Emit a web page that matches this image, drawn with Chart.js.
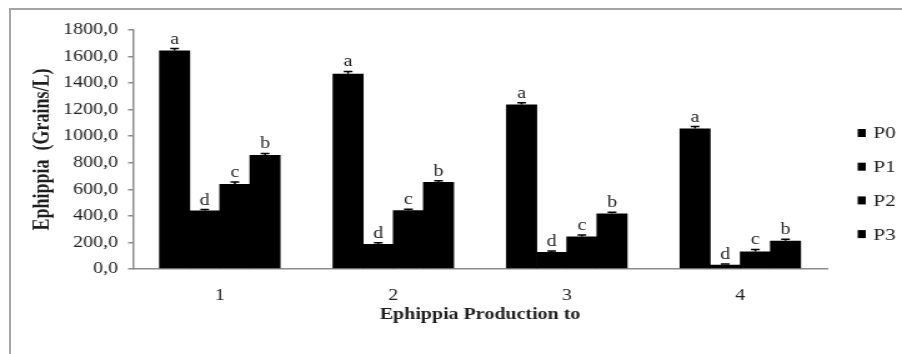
<!DOCTYPE html>
<html>
<head>
<meta charset="utf-8">
<script src="https://cdn.jsdelivr.net/npm/chart.js@4.4.1/dist/chart.umd.min.js"></script>
<style>
  html, body { margin: 0; padding: 0; background: #fff; overflow: hidden; }
  #wrap { position: relative; width: 902px; height: 354px; overflow: hidden; }
  #frame { position: absolute; left: 9px; top: 8px; width: 1000px; height: 1000px;
           border-left: 2px solid #a5a5a5; border-top: 2px solid #a5a5a5; pointer-events: none; }
  /* the source picture is stretched sideways, so the canvas is too */
  #chart { position: absolute; left: 0; top: 0; transform-origin: 0 0; transform: scaleX(1.2493); }
</style>
</head>
<body>
<div id="wrap">
  <canvas id="chart" width="722" height="354"></canvas>
  <div id="frame"></div>
</div>
<script>
// Data
const categories = ['1', '2', '3', '4'];
const seriesNames = ['P0', 'P1', 'P2', 'P3'];
const p0 = [1645, 1470, 1238, 1058];
const p1 = [440, 188, 128, 32];
const p2 = [640, 442, 245, 132];
const p3 = [858, 655, 418, 212];
const p0Err = [15, 18, 15, 15];
const p1Err = [8, 10, 8, 6];
const p2Err = [15, 8, 12, 15];
const p3Err = [12, 10, 10, 12];
const p0Letters = ['a', 'a', 'a', 'a'];
const p1Letters = ['d', 'd', 'd', 'd'];
const p2Letters = ['c', 'c', 'c', 'c'];
const p3Letters = ['b', 'b', 'b', 'b'];
const yMax = 1800;
const yStep = 200;

const serif = '"Liberation Serif", "Times New Roman", serif';
const textColor = '#1f1f1f';
const axisColor = '#8c8c8c';

// Error bars and significance letters above each bar
const errorBars = {
    id: 'errorBars',
    afterDatasetsDraw(chart) {
        const ctx = chart.ctx;
        const yScale = chart.scales.y;
        chart.data.datasets.forEach((ds, i) => {
            chart.getDatasetMeta(i).data.forEach((bar, j) => {
                const top = yScale.getPixelForValue(ds.data[j] + ds.errors[j]);
                ctx.save();
                ctx.strokeStyle = '#000';
                ctx.lineWidth = 1.5;
                ctx.beginPath();
                ctx.moveTo(bar.x, bar.y);
                ctx.lineTo(bar.x, top);
                ctx.moveTo(bar.x - 3.5, top);
                ctx.lineTo(bar.x + 3.5, top);
                ctx.stroke();
                ctx.fillStyle = textColor;
                ctx.font = '16px ' + serif;
                ctx.textAlign = 'center';
                ctx.textBaseline = 'alphabetic';
                ctx.fillText(ds.letters[j], bar.x, top - 5);
                ctx.restore();
            });
        });
    }
};

// Legend at the right, one row per series
const sideLegend = {
    id: 'sideLegend',
    afterDraw(chart) {
        const ctx = chart.ctx;
        ctx.save();
        ctx.font = '17px ' + serif;
        ctx.textBaseline = 'middle';
        chart.data.datasets.forEach((ds, i) => {
            const cy = 133 + i * 33.7;
            ctx.fillStyle = ds.backgroundColor;
            ctx.fillRect(686.5, cy - 4, 6.5, 8);
            ctx.fillStyle = textColor;
            ctx.fillText(ds.label, 699, cy + 1);
        });
        ctx.restore();
    }
};

const values = [p0, p1, p2, p3];
const errs = [p0Err, p1Err, p2Err, p3Err];
const letters = [p0Letters, p1Letters, p2Letters, p3Letters];

const ctx = document.getElementById('chart').getContext('2d');
const chart = new Chart(ctx, {
    type: 'bar',
    data: {
        labels: categories,
        datasets: seriesNames.map((name, i) => ({
            label: name,
            data: values[i],
            errors: errs[i],
            letters: letters[i],
            backgroundColor: '#000',
            borderWidth: 0,
            // slight overlap so no seams show between bars of a group
            categoryPercentage: 0.695,
            barPercentage: 1.03
        }))
    },
    options: {
        responsive: false,
        animation: false,
        layout: {
            autoPadding: false,
            padding: { left: 0, top: 30, right: 60, bottom: 0 }
        },
        plugins: {
            legend: { display: false },
            tooltip: { enabled: false }
        },
        scales: {
            x: {
                grid: { display: false },
                border: { color: axisColor, width: 1.5 },
                ticks: { color: textColor, padding: 9, font: { family: serif, size: 16 } },
                title: {
                    display: true,
                    text: 'Ephippia Production to',
                    color: textColor,
                    font: { family: serif, size: 16, weight: 'bold' },
                    padding: { top: 0, bottom: 30 }
                },
                afterFit(scale) { scale.height = 85; }
            },
            y: {
                min: 0,
                max: yMax,
                ticks: {
                    stepSize: yStep,
                    padding: 8,
                    color: textColor,
                    font: { family: serif, size: 16 },
                    callback: (v) => v.toFixed(1).replace('.', ',')
                },
                grid: { drawOnChartArea: false, drawTicks: true, tickLength: 4, color: axisColor, lineWidth: 1.5 },
                border: { color: axisColor, width: 1.5 },
                title: {
                    display: true,
                    text: 'Ephippia  (Grains/L)',
                    color: textColor,
                    font: { family: serif, size: 18, weight: 'bold' },
                    padding: { top: 24, bottom: 0 }
                },
                afterFit(scale) { scale.width = 106.5; }
            }
        }
    },
    plugins: [errorBars, sideLegend]
});
</script>
</body>
</html>
